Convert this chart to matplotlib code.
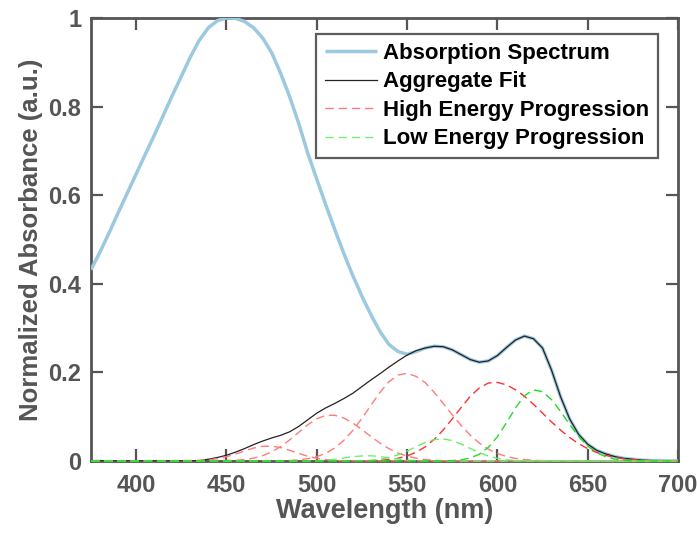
import numpy as np
import matplotlib
matplotlib.use("Agg")
import matplotlib.pyplot as plt
from matplotlib.ticker import FuncFormatter

# ---------------- data ----------------
abs_start = 375
absorption = [0.432, 0.472, 0.515, 0.560, 0.604, 0.648, 0.692, 0.735, 0.780, 0.825,
              0.868, 0.912, 0.950, 0.978, 0.994, 1.000, 0.999, 0.992, 0.978, 0.955,
              0.922, 0.875, 0.822, 0.762, 0.695, 0.636, 0.578, 0.522, 0.468, 0.418,
              0.372, 0.330, 0.292, 0.263, 0.247, 0.241, 0.247, 0.255, 0.259, 0.258,
              0.251, 0.240, 0.229, 0.223, 0.226, 0.238, 0.256, 0.273, 0.282, 0.276,
              0.255, 0.205, 0.145, 0.095, 0.060, 0.038, 0.024, 0.016, 0.010, 0.006,
              0.004, 0.002, 0.001, 0.001, 0.000, 0.000]

fit_start = 430
aggregate_fit = [0.000, 0.001, 0.004, 0.008, 0.013, 0.020, 0.028, 0.037, 0.045, 0.052,
                 0.058, 0.066, 0.078, 0.093, 0.108, 0.120, 0.130, 0.141, 0.153, 0.168,
                 0.183, 0.197, 0.212, 0.226, 0.239, 0.249, 0.255, 0.259, 0.258, 0.251,
                 0.240, 0.229, 0.223, 0.226, 0.238, 0.256, 0.273, 0.282, 0.276, 0.255,
                 0.205, 0.145, 0.095, 0.060, 0.038, 0.024, 0.016, 0.010, 0.006, 0.004,
                 0.002, 0.001, 0.001, 0.000, 0.000]

high1_start = 435
high1 = [0.0011, 0.0026, 0.0053, 0.0097, 0.0157, 0.0227, 0.0292, 0.0333, 0.0337,
         0.0303, 0.0241, 0.0171, 0.0107, 0.0060, 0.0030, 0.0013, 0.0005]
high2_start = 455
high2 = [0.0015, 0.0032, 0.0064, 0.0119, 0.0204, 0.0324, 0.0476, 0.0648, 0.0817,
         0.0953, 0.1030, 0.1032, 0.0970, 0.0856, 0.0709, 0.0552, 0.0404, 0.0278,
         0.0179, 0.0109, 0.0062, 0.0033, 0.0017, 0.0008]
high3_start = 480
high3 = [0.0005, 0.0012, 0.0026, 0.0052, 0.0098, 0.0176, 0.0296, 0.0467, 0.0692,
         0.0964, 0.126, 0.155, 0.179, 0.194, 0.198, 0.191, 0.177, 0.155, 0.130,
         0.1045, 0.0799, 0.0582, 0.0404, 0.0268, 0.0169, 0.0102, 0.0059, 0.0032,
         0.0017, 0.0008]
high4_start = 530
high4 = [0.0007, 0.0016, 0.0033, 0.0063, 0.0115, 0.0197, 0.0319, 0.0487, 0.070,
         0.0949, 0.121, 0.146, 0.165, 0.176, 0.1775, 0.172, 0.161, 0.146, 0.128,
         0.108, 0.0882, 0.0696, 0.0531, 0.0391, 0.0279, 0.0192, 0.0127, 0.0082,
         0.0051, 0.0030, 0.0018, 0.0010, 0.0005]

low1_start = 495
low1 = [0.0003, 0.0008, 0.0019, 0.0039, 0.0067, 0.0096, 0.0116, 0.0118, 0.0101,
        0.0073, 0.0044, 0.0022, 0.0010, 0.0003, 0.0001]
low2_start = 525
low2 = [0.0007, 0.0017, 0.0038, 0.0077, 0.0139, 0.0224, 0.0323, 0.0418, 0.0483,
        0.0499, 0.0462, 0.0382, 0.0283, 0.0188, 0.0111, 0.0059, 0.0028, 0.0012, 0.0005]
low3_start = 570
low3 = [0.0003, 0.0009, 0.0026, 0.0068, 0.0154, 0.0308, 0.0548, 0.0861, 0.1197,
        0.1474, 0.1606, 0.1563, 0.1385, 0.1119, 0.0823, 0.0552, 0.0337, 0.0188,
        0.0095, 0.0044, 0.0019, 0.0007, 0.0002]

x_ticks = [400, 450, 500, 550, 600, 650, 700]
y_ticks = [0, 0.2, 0.4, 0.6, 0.8, 1.0]
x_range = (375, 700)
step = 5

# ---------------- plotting ----------------
plt.rcParams['font.family'] = ['Liberation Sans', 'DejaVu Sans']
plt.rcParams['font.weight'] = 'bold'

def grid(start, vals):
    return start + step * np.arange(len(vals))

def padded(start, vals):
    x = np.concatenate([[x_range[0]], grid(start, vals), [x_range[1]]])
    y = np.concatenate([[0.0], vals, [0.0]])
    return x, y

fig = plt.figure(figsize=(6.97, 5.35), dpi=100)
ax = fig.add_axes([0.1306, 0.1383, 0.8421, 0.8281])

ax.plot(grid(abs_start, absorption), absorption, color='#9cc9e0', lw=2.5,
        label='Absorption Spectrum', zorder=3, solid_capstyle='butt')
xf, yf = padded(fit_start, aggregate_fit)
ax.plot(xf, yf, color='#222222', lw=0.9, label='Aggregate Fit', zorder=4)

dash = (0, (6, 3.5))
red_pale = '#ff7b7b'
red_strong = '#ff3030'
for i, (s, v, c) in enumerate([(high1_start, high1, red_pale), (high2_start, high2, red_pale),
                               (high3_start, high3, red_pale), (high4_start, high4, red_strong)]):
    x, y = padded(s, v)
    ax.plot(x, y, color=c, lw=1.0, ls=dash, zorder=5, clip_on=False,
            label='High Energy Progression' if i == 0 else None)
for i, (s, v, c) in enumerate([(low1_start, low1, '#77ee77'), (low2_start, low2, '#66ee66'),
                               (low3_start, low3, '#22dd22')]):
    x, y = padded(s, v)
    ax.plot(x, y, color=c, lw=1.0, ls=dash, zorder=6, clip_on=False,
            label='Low Energy Progression' if i == 0 else None)

ax.set_xlim(*x_range)
ax.set_ylim(0, 1)
ax.set_xticks(x_ticks)
ax.set_yticks(y_ticks)
ax.yaxis.set_major_formatter(FuncFormatter(lambda v, p: '%g' % v))

tick_col = '#555555'
for sp in ax.spines.values():
    sp.set_color(tick_col)
    sp.set_linewidth(2.0)
ax.tick_params(direction='in', length=8.5, width=1.6, colors=tick_col,
               labelsize=17, top=True, right=True)
ax.tick_params(axis='x', pad=9)
ax.tick_params(axis='y', pad=7)
for lab in ax.get_xticklabels() + ax.get_yticklabels():
    lab.set_fontweight('bold')

ax.set_xlabel('Wavelength (nm)', fontsize=19.5, fontweight='bold', color=tick_col, labelpad=1)
ax.set_ylabel('Normalized Absorbance (a.u.)', fontsize=18.5, fontweight='bold',
              color=tick_col, labelpad=4)

leg = ax.legend(loc='upper right', bbox_to_anchor=(0.966, 0.964), fontsize=16,
                frameon=True, fancybox=False, handlelength=2.35, handletextpad=0.27,
                labelspacing=0.34, borderpad=0.4, borderaxespad=0)
leg.get_frame().set_edgecolor('#333333')
leg.get_frame().set_linewidth(1.6)
for t in leg.get_texts():
    t.set_fontweight('bold')
    t.set_color('black')

fig.savefig('out.png', dpi=100)
